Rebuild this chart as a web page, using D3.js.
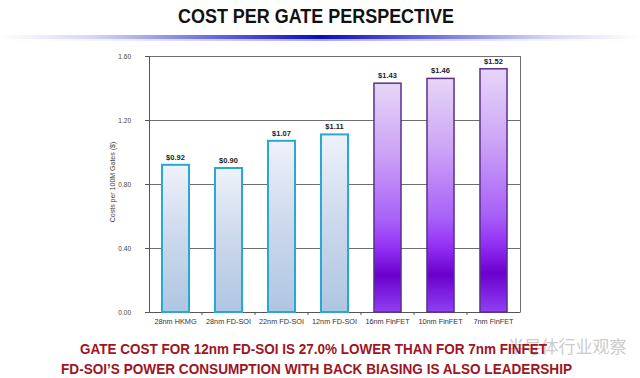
<!DOCTYPE html>
<html><head><meta charset="utf-8">
<script src="https://cdn.jsdelivr.net/npm/d3@7"></script>
<style>body{margin:0;background:#fff}svg{display:block}</style>
</head><body>
<svg id="c" width="640" height="378"></svg>
<script>
const categories = ["28nm HKMG","28nm FD-SOI","22nm FD-SOI","12nm FD-SOI","16nm FinFET","10nm FinFET","7nm FinFET"];
const values = [0.92,0.90,1.07,1.11,1.43,1.46,1.52];
const groups = ["soi","soi","soi","soi","fin","fin","fin"];
const yTicks = [0,0.4,0.8,1.2,1.6];
const title = "COST PER GATE PERSPECTIVE";
const yLabel = "Costs per 100M Gates ($)";
const notes = ["GATE COST FOR 12nm FD-SOI IS 27.0% LOWER THAN FOR 7nm FINFET",
               "FD-SOI\u2019S POWER CONSUMPTION WITH BACK BIASING IS ALSO LEADERSHIP"];
const watermark = "半导体行业观察";

const svg = d3.select("#c");
const defs = svg.append("defs");
const lg = defs.append("linearGradient").attr("id","rule").attr("x1","0").attr("x2","1");
[[0,"#ffffff"],[0.15,"#d4d4f4"],[0.5,"#0a0ac0"],[0.85,"#d4d4f4"],[1,"#ffffff"]].forEach(s=>lg.append("stop").attr("offset",s[0]).attr("stop-color",s[1]));
const bg = defs.append("linearGradient").attr("id","gsoi").attr("x1",0).attr("x2",0).attr("y1",0).attr("y2",1);
[[0,"#eef2fa"],[0.5,"#ccd8ec"],[1,"#aec6e2"]].forEach(s=>bg.append("stop").attr("offset",s[0]).attr("stop-color",s[1]));
const pg = defs.append("linearGradient").attr("id","gfin").attr("x1",0).attr("x2",0).attr("y1",0).attr("y2",1);
[[0,"#e6d6f6"],[0.3,"#cda4f6"],[0.6,"#a860f8"],[0.72,"#9330f4"],[0.84,"#6a00cc"],[1,"#9040f4"]].forEach(s=>pg.append("stop").attr("offset",s[0]).attr("stop-color",s[1]));

svg.append("text").attr("x",316).attr("y",23).attr("text-anchor","middle")
  .attr("font-family","'Liberation Sans Narrow','Liberation Sans',Arial,sans-serif")
  .attr("font-weight","bold").attr("font-size",21).attr("fill","#111")
  .attr("textLength",276).attr("lengthAdjust","spacingAndGlyphs").text(title);
svg.append("rect").attr("x",0).attr("y",35).attr("width",640).attr("height",4).attr("fill","url(#rule)");
svg.append("rect").attr("x",30).attr("y",39).attr("width",580).attr("height",2).attr("fill","url(#rule)").attr("opacity",0.35);

const L=149,R=520,T=56,B=312;
const x = d3.scaleBand().domain(categories).range([L,R]).paddingInner(0.49).paddingOuter(0.245);
const y = d3.scaleLinear().domain([0,1.6]).range([B,T]);

svg.append("g").selectAll("line").data(yTicks.slice(1)).join("line")
  .attr("x1",L).attr("x2",R).attr("y1",d=>y(d)).attr("y2",d=>y(d))
  .attr("stroke","#6e6e6e").attr("stroke-width",1).attr("shape-rendering","crispEdges");
svg.append("line").attr("x1",R).attr("x2",R).attr("y1",T).attr("y2",B).attr("stroke","#6e6e6e").attr("shape-rendering","crispEdges");

const font = "'Liberation Sans',Arial,sans-serif";
const ya = svg.append("g").attr("transform",`translate(${L},0)`)
  .call(d3.axisLeft(y).tickValues(yTicks).tickFormat(d3.format(".2f")).tickSize(4).tickPadding(14));
ya.selectAll("text").attr("font-family",font).attr("font-size",6.5).attr("fill","#444");
ya.selectAll("line,path").attr("stroke","#555");

const xa = svg.append("g").attr("transform",`translate(0,${B})`)
  .call(d3.axisBottom(x).tickSize(0).tickPadding(7));
xa.selectAll("text").attr("font-family",font).attr("font-size",7.3).attr("fill","#333");
xa.select("path").attr("stroke","#555");
svg.append("g").selectAll("line").data(d3.range(1,categories.length)).join("line")
  .attr("x1",d=>L+(R-L)*d/categories.length).attr("x2",d=>L+(R-L)*d/categories.length)
  .attr("y1",B).attr("y2",B+3).attr("stroke","#555");

svg.append("text").attr("transform",`translate(115,182) rotate(-90)`).attr("text-anchor","middle")
  .attr("font-family",font).attr("font-size",7).attr("fill","#444").text(yLabel);

svg.append("g").selectAll("rect").data(values).join("rect")
  .attr("x",(d,i)=>x(categories[i])).attr("width",x.bandwidth())
  .attr("y",d=>y(d)).attr("height",d=>B-y(d))
  .attr("fill",(d,i)=>groups[i]==="soi"?"url(#gsoi)":"url(#gfin)")
  .attr("stroke",(d,i)=>groups[i]==="soi"?"#2aa7d2":"#5a3088")
  .attr("stroke-width",(d,i)=>groups[i]==="soi"?2:1.5);

svg.append("g").selectAll("text").data(values).join("text")
  .attr("x",(d,i)=>x(categories[i])+x.bandwidth()/2).attr("y",d=>y(d)-5)
  .attr("text-anchor","middle").attr("font-family",font).attr("font-weight","bold")
  .attr("font-size",7.5).attr("fill","#222").text(d=>"$"+d.toFixed(2));

svg.append("text").attr("x",567).attr("y",353).attr("text-anchor","middle")
  .attr("font-family","'Noto Sans CJK SC',sans-serif").attr("font-size",17)
  .attr("fill","#999").attr("opacity",0.5).text(watermark);

svg.append("text").attr("x",80).attr("y",354)
  .attr("font-family","'Liberation Sans Narrow','Liberation Sans',Arial,sans-serif").attr("font-weight","bold")
  .attr("font-size",15).attr("fill","#a0141e").attr("textLength",467).attr("lengthAdjust","spacingAndGlyphs").text(notes[0]);
svg.append("text").attr("x",61).attr("y",374)
  .attr("font-family","'Liberation Sans Narrow','Liberation Sans',Arial,sans-serif").attr("font-weight","bold")
  .attr("font-size",15).attr("fill","#a0141e").attr("textLength",511).attr("lengthAdjust","spacingAndGlyphs").text(notes[1]);
</script>
</body></html>
